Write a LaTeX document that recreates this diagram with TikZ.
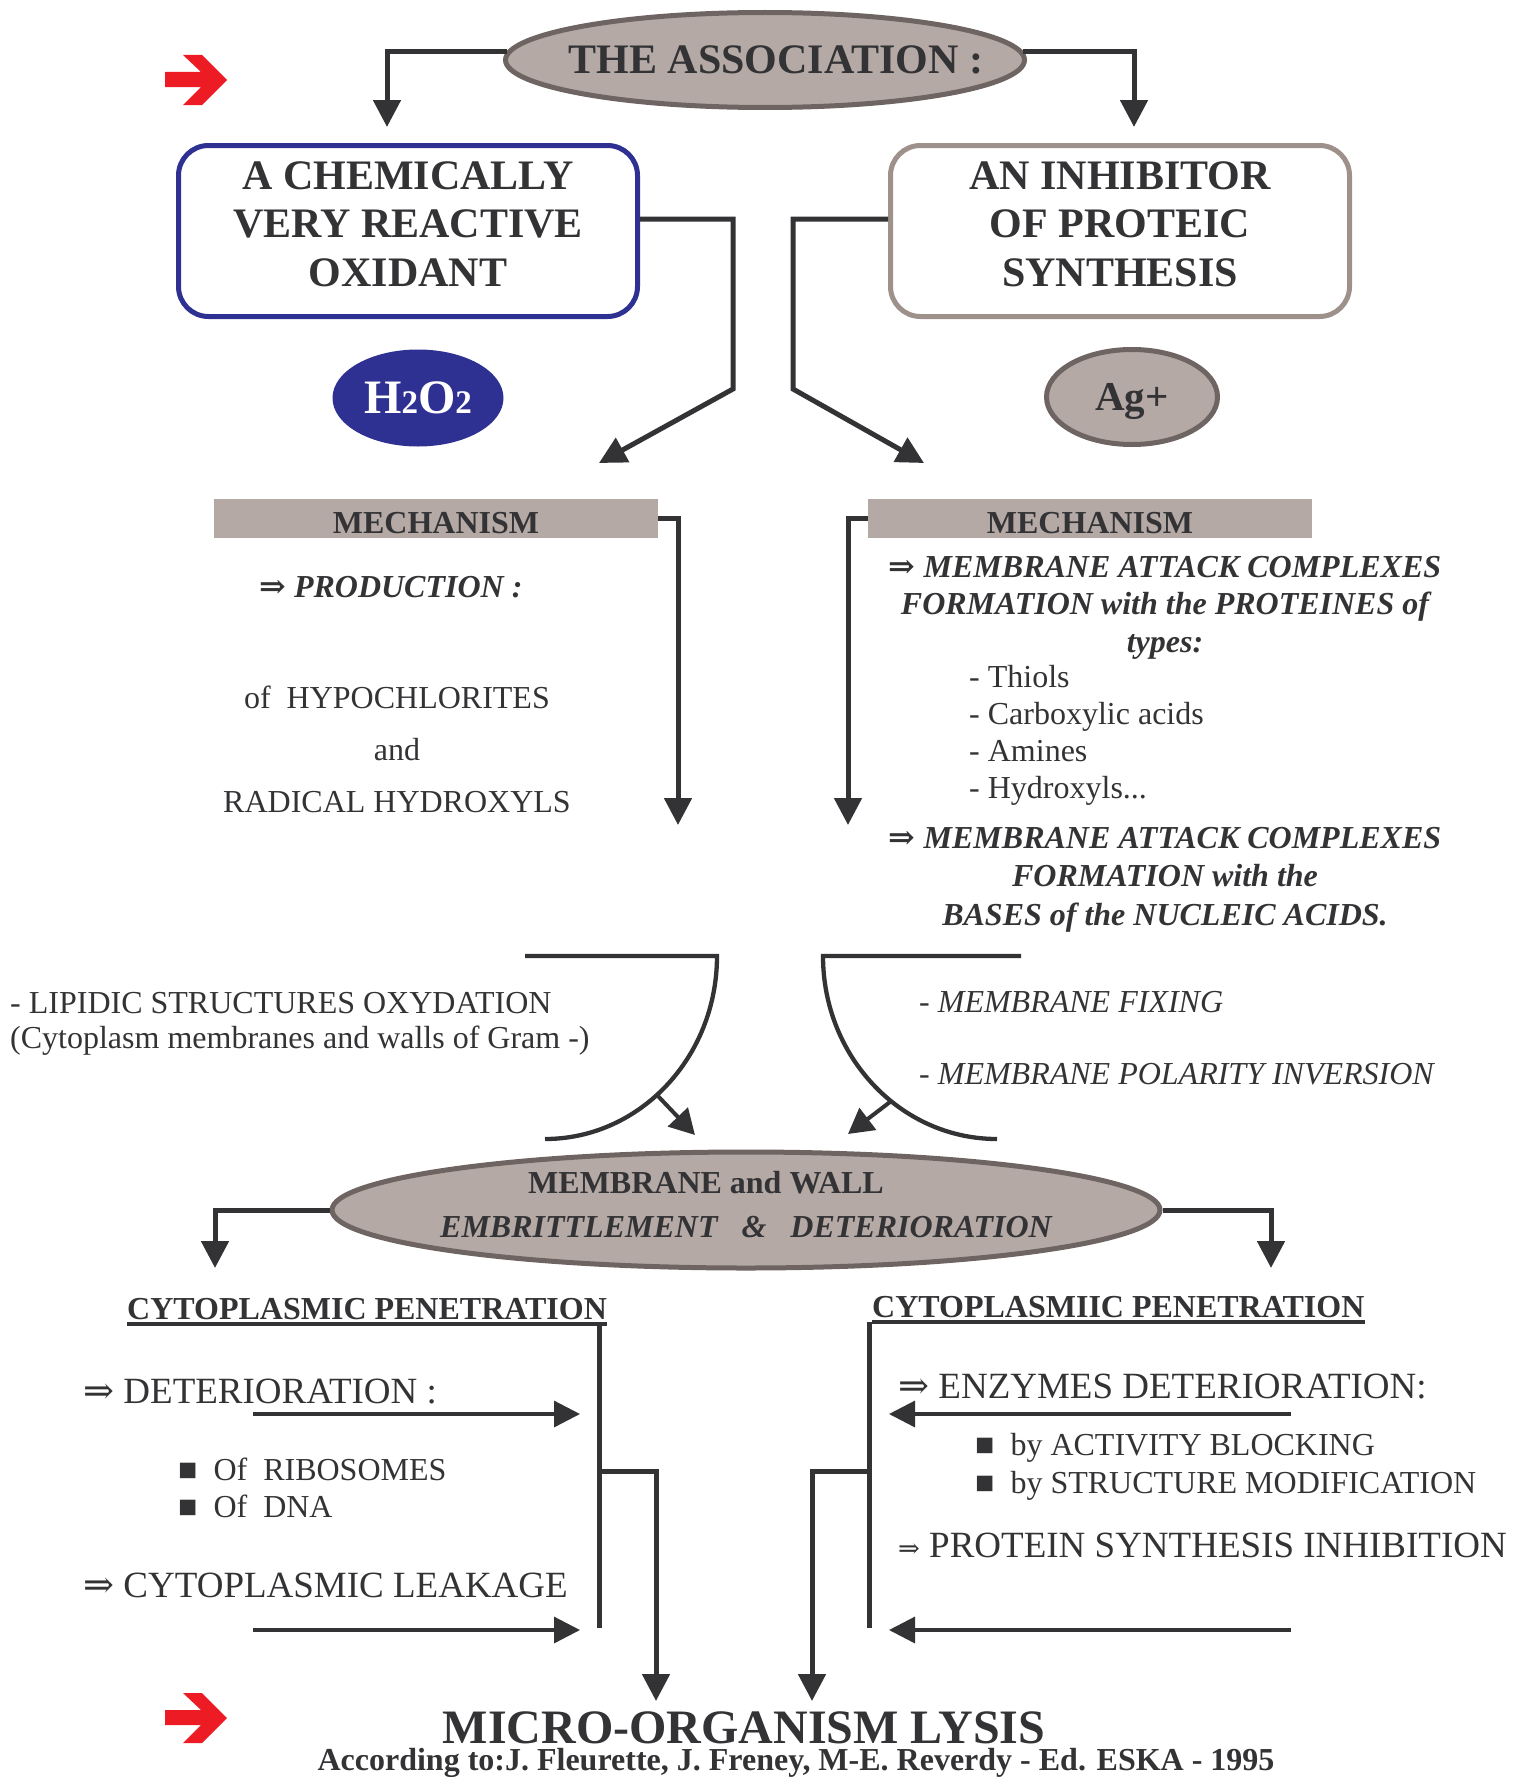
\documentclass[tikz,border=0pt]{standalone}
\usepackage{fontspec}
\setmainfont{Liberation Serif}
\newfontfamily\arrowfont{DejaVu Serif}
\usetikzlibrary{positioning, arrows.meta, shapes.geometric}

\definecolor{ink}{HTML}{333336}
\definecolor{taupe}{HTML}{B4A9A5}
\definecolor{taupedark}{HTML}{6E6461}
\definecolor{oxblue}{HTML}{2E3192}
\definecolor{boxtaupe}{HTML}{9E918C}
\definecolor{markred}{HTML}{ED1C24}

\newcommand{\fsize}[2]{\fontsize{#1}{#2}\selectfont}
\newcommand{\impl}{{\arrowfont\mdseries\upshape ⇒}}
\newcommand{\bimpl}{{\arrowfont\bfseries\upshape ⇒}}

\begin{document}
\begin{tikzpicture}[x=1pt, y=-1pt, line join=miter, text=ink,
  oval/.style={ellipse, draw=taupedark, fill=taupe, line width=5pt, inner sep=0pt},
  title box/.style={rectangle, rounded corners=30pt, fill=white, line width=5pt,
    minimum width=459pt, minimum height=171pt, align=center,
    font=\bfseries\fsize{42}{48.5}, text depth=14pt},
  mech bar/.style={rectangle, fill=taupe, minimum width=444pt, minimum height=39pt,
    inner sep=0pt, text height=31pt, font=\bfseries\fsize{32}{38}},
  txt/.style={inner sep=0pt, anchor=base west},
  ctxt/.style={inner sep=0pt, anchor=base, align=center},
  link/.style={draw=ink, line width=5pt},
  arrow/.style={link, -{Triangle[length=27pt, width=27pt]}},
  pointer/.style={draw=ink, line width=3.3pt, -{Triangle[length=26pt, width=26pt]}},
  slant/.style={draw=ink, line width=4pt, -{Triangle[length=25pt, width=27pt]}},
  bracket/.style={draw=ink, line width=4.3pt}]

\useasboundingbox (0,0) rectangle (1525,1777);

% red markers
\foreach \dy in {0,1638}
  \fill[markred, shift={(0,\dy)}] (165,72) -- (201,72) -- (183,55) -- (202,55)
    -- (227,80) -- (202,105) -- (183,105) -- (201,87) -- (165,87) -- cycle;

\node[oval, minimum width=519pt, minimum height=95pt, inner xsep=-60pt,
  font=\bfseries\fsize{42}{50}] (assoc) at (765,60) {\hspace*{22pt}THE ASSOCIATION :};

\node[title box, draw=oxblue] (oxidant) at (408,231) {A CHEMICALLY\\VERY REACTIVE\\OXIDANT};
\node[title box, draw=boxtaupe] (inhibitor) at (1120,231) {AN INHIBITOR\\OF PROTEIC\\SYNTHESIS};

\node[ellipse, fill=oxblue, minimum width=171pt, minimum height=97pt, inner sep=0pt,
  text=white, font=\bfseries\fsize{48}{50}] (peroxide) at (418,398) {H{\fsize{33}{35}2}O{\fsize{33}{35}2}};
\node[oval, minimum width=171pt, minimum height=95pt, text depth=0pt,
  font=\bfseries\fsize{41}{45}] (silver) at (1132,397) {Ag+};

\coordinate (ox tip) at (387,127);
\coordinate (ag tip) at (1134,127);
\draw[arrow] (assoc.178) -| (ox tip);
\draw[arrow] (assoc.2) -| (ag tip);

\coordinate (ox bend) at (733,389);
\coordinate (ox mech) at (599,463);
\coordinate (ag bend) at (793,389);
\coordinate (ag mech) at (924,463);
\draw[arrow] ([yshift=12pt]oxidant.east) -| (ox bend) -- (ox mech);
\draw[arrow] ([yshift=12pt]inhibitor.west) -| (ag bend) -- (ag mech);

% mechanisms
\node[mech bar] (mech ox) at (436,518.5) {MECHANISM};
\node[mech bar] (mech ag) at (1090,518.5) {MECHANISM};

\coordinate (ox drop) at (678,825);
\coordinate (ag drop) at (848,825);
\draw[arrow] (mech ox.east) -| (ox drop);
\draw[arrow] (mech ag.west) -| (ag drop);

\node[txt, font=\bfseries\itshape\fsize{32}{38}] (production) at (259,597) {\bimpl\ PRODUCTION :};
\node[ctxt, font=\fsize{32}{52}] (products) at (397,812) {of \ HYPOCHLORITES\\and\\RADICAL HYDROXYLS};

\node[ctxt, font=\bfseries\itshape\fsize{32}{37.5}] (attack prot) at (1165,652)
  {\bimpl\ MEMBRANE ATTACK COMPLEXES\\FORMATION with the PROTEINES of\\types:};
\node[txt, align=left, font=\fsize{32}{36.8}] (types) at (969,798)
  {- Thiols\\- Carboxylic acids\\- Amines\\- Hydroxyls...};
\node[ctxt, font=\bfseries\itshape\fsize{32}{38.5}] (attack nucl) at (1165,925)
  {\bimpl\ MEMBRANE ATTACK COMPLEXES\\FORMATION with the\\BASES of the NUCLEIC ACIDS.};

% effects on the membrane
\node[txt, align=left, font=\fsize{32}{35}] (lipid) at (10,1048)
  {- LIPIDIC STRUCTURES OXYDATION\\(Cytoplasm membranes and walls of Gram -)};
\node[txt, align=left, font=\itshape\fsize{32}{72}] (fixing) at (919,1084)
  {- MEMBRANE FIXING\\- MEMBRANE POLARITY INVERSION};

\coordinate (ox bar) at (525,956);
\coordinate (ag bar) at (1021,956);
\draw[bracket] (ox bar) -- ++(192,0) arc[start angle=0, end angle=90, x radius=172, y radius=183];
\draw[bracket] (ag bar) -- ++(-198,0) arc[start angle=180, end angle=90, x radius=174, y radius=183];

\coordinate (ox arc) at (657,1095);
\coordinate (ox meet) at (695,1135);
\coordinate (ag arc) at (890,1102);
\coordinate (ag meet) at (848,1134);
\draw[slant] (ox arc) -- (ox meet);
\draw[slant] (ag arc) -- (ag meet);

\node[oval, minimum width=828pt, minimum height=116pt, inner xsep=-40pt, align=center,
  text depth=11pt, font=\bfseries\fsize{32}{44}] (brittle) at (746,1210)
  {MEMBRANE and WALL\hspace*{80pt}\\\itshape EMBRITTLEMENT\ \ \ \&\ \ \ DETERIORATION};

\coordinate (pen left) at (215,1268);
\coordinate (pen right) at (1271,1268);
\draw[arrow] (brittle.west) -| (pen left);
\draw[arrow] (brittle.east) -| (pen right);

% cytoplasmic penetration
\node[txt, font=\bfseries\fsize{32}{38}, text depth=5pt] (pen ox) at (127,1319) {CYTOPLASMIC PENETRATION};
\node[txt, font=\bfseries\fsize{32}{38}, text depth=5pt] (pen ag) at (872,1317) {CYTOPLASMIIC PENETRATION};
\draw[draw=ink, line width=4pt] (pen ox.south west) -- (pen ox.south east);
\draw[draw=ink, line width=4pt] (pen ag.south west) -- (pen ag.south east);

\coordinate (ox foot) at (599,1628);
\coordinate (ag foot) at (869,1628);
\draw[link] (pen ox.south -| ox foot) -- (ox foot);
\draw[link] (pen ag.south -| ag foot) -- (ag foot);

\coordinate (ox branch) at (599,1471);
\coordinate (ox lysis) at (656,1701);
\coordinate (ag branch) at (869,1471);
\coordinate (ag lysis) at (812,1701);
\draw[arrow] (ox branch) -| (ox lysis);
\draw[arrow] (ag branch) -| (ag lysis);

\foreach \y in {1414,1630} {
  \coordinate (from ox \y) at (253,\y);
  \coordinate (to ox \y) at (580,\y);
  \coordinate (from ag \y) at (1291,\y);
  \coordinate (to ag \y) at (889,\y);
  \draw[pointer] (from ox \y) -- (to ox \y);
  \draw[pointer] (from ag \y) -- (to ag \y);
}

\node[txt, font=\fsize{37}{40}] (det) at (83,1403) {\impl\ DETERIORATION :};
\node[txt, align=left, font=\fsize{32}{37}] (targets) at (178,1517) {■\ \ Of\ \ RIBOSOMES\\■\ \ Of\ \ DNA};
\node[txt, font=\fsize{37}{40}] (leak) at (83,1597) {\impl\ CYTOPLASMIC LEAKAGE};

\node[txt, font=\fsize{37}{40}] (enzymes) at (898,1398) {\impl\ ENZYMES DETERIORATION:};
\node[txt, align=left, font=\fsize{32}{38}] (blocking) at (975,1493)
  {■\ \ by ACTIVITY BLOCKING\\■\ \ by STRUCTURE MODIFICATION};
\node[txt, font=\fsize{37}{40}] (synthesis) at (898,1557) {{\fsize{26}{26}\impl}\ PROTEIN SYNTHESIS INHIBITION};

\node[ctxt, font=\bfseries\fsize{48}{50}] (lysis) at (744,1743) {MICRO-ORGANISM LYSIS};
\node[ctxt, font=\bfseries\fsize{32}{34}] (source) at (796,1770)
  {According to:J. Fleurette, J. Freney, M-E. Reverdy - Ed. ESKA - 1995};

\end{tikzpicture}
\end{document}
